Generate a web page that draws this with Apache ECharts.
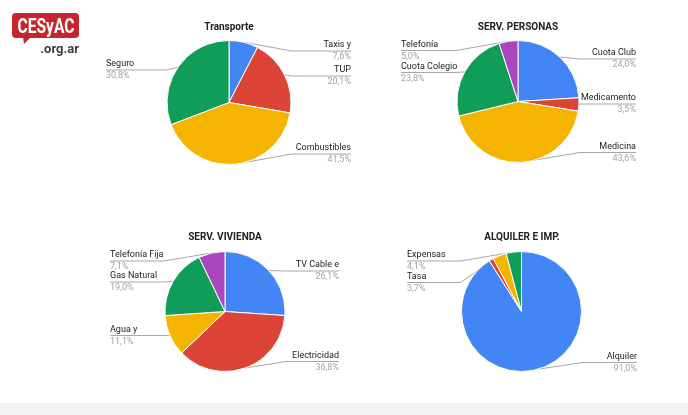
<!DOCTYPE html>
<html>
<head>
<meta charset="utf-8">
<script src="https://cdn.jsdelivr.net/npm/echarts@6/dist/echarts.min.js"></script>
<style>
html, body { margin: 0; padding: 0; background: #fff; }
#chartDiv { width: 688px; height: 415px; }
</style>
</head>
<body>
<div id="chartDiv"></div>
<script>
// values (percent)
var transporteNames = ['Taxis y', 'TUP', 'Combustibles', 'Seguro'];
var transporteValues = [7.6, 20.1, 41.5, 30.8];

var personasNames = ['Cuota Club', 'Medicamento', 'Medicina', 'Cuota Colegio', 'Telefonía'];
var personasValues = [24.0, 3.5, 43.6, 23.8, 5.0];

var viviendaNames = ['TV Cable e', 'Electricidad', 'Agua y', 'Gas Natural', 'Telefonía Fija'];
var viviendaValues = [26.1, 36.8, 11.1, 19.0, 7.1];

// the small red slice has no label in the original
var alquilerNames = ['Alquiler', 'Otros', 'Tasa', 'Expensas'];
var alquilerValues = [91.0, 1.2, 3.7, 4.1];

var colors = ['#4285f4', '#db4437', '#f4b400', '#0f9d58', '#ab47bc'];

var pies = [ {
	title : 'Transporte',
	names : transporteNames,
	values : transporteValues,
	center : [229, 102.5],
	radius : 62,
	titlePos : [229, 22],
	labelY : [51, 76, 154, 70],
	edges : [106, 351]
}, {
	title : 'SERV. PERSONAS',
	names : personasNames,
	values : personasValues,
	center : [518, 101.5],
	radius : 61,
	titlePos : [518, 22],
	labelY : [59, 104, 152.5, 72.5, 50.5],
	edges : [401, 636]
}, {
	title : 'SERV. VIVIENDA',
	names : viviendaNames,
	values : viviendaValues,
	center : [225, 311.5],
	radius : 60,
	titlePos : [225, 232],
	labelY : [271, 361.5, 335.5, 282, 261],
	edges : [110, 339]
}, {
	title : 'ALQUILER E IMP.',
	names : alquilerNames,
	values : alquilerValues,
	center : [521.5, 311.5],
	radius : 60,
	titlePos : [522, 232],
	labelY : [362.5, null, 282.5, 261],
	edges : [407, 637]
} ];

function pct(v) {
	return v.toFixed(1).replace('.', ',') + '%';
}

// google style labels: name above the leader line, percent under it
function makeLabelLayout(pie) {
	return function(params) {
		var y = pie.labelY[params.dataIndex];
		if (y == null) {
			return;
		}
		var p0 = params.labelLinePoints ? params.labelLinePoints[0]
				: [params.rect.x + params.rect.width / 2, params.rect.y];
		var onLeft = p0[0] < pie.center[0];
		var edgeX = onLeft ? pie.edges[0] : pie.edges[1];
		var bendX = onLeft ? pie.center[0] - pie.radius - 1 : pie.center[0] + pie.radius + 1;
		return {
			x : edgeX,
			y : y,
			align : onLeft ? 'left' : 'right',
			verticalAlign : 'middle',
			labelLinePoints : [ p0, [ bendX, y ], [ edgeX, y ] ]
		};
	};
}

var titles = [];
var series = [];
for ( var i in pies) {
	var pie = pies[i];
	titles.push({
		text : pie.title,
		left : pie.titlePos[0],
		top : pie.titlePos[1],
		padding : 0,
		textAlign : 'center',
		textStyle : {
			fontFamily : 'Roboto',
			fontSize : 10,
			fontWeight : 'bold',
			color : '#222'
		}
	});
	var data = [];
	for ( var j = 0; j < pie.values.length; j++) {
		var item = {
			name : pie.names[j],
			value : pie.values[j],
			itemStyle : { color : colors[j] }
		};
		if (pie.labelY[j] == null) {
			item.label = { show : false };
			item.labelLine = { show : false };
		}
		data.push(item);
	}
	series.push({
		type : 'pie',
		center : pie.center,
		radius : pie.radius,
		startAngle : 90,
		avoidLabelOverlap : false,
		emphasis : { disabled : true },
		itemStyle : { borderColor : '#fff', borderWidth : 1 },
		label : {
			show : true,
			position : 'outside',
			formatter : function(p) {
				return '{n|' + p.name + '}\n{p|' + pct(p.value) + '}';
			},
			rich : {
				n : { fontFamily : 'Roboto', fontSize : 9, color : '#222', lineHeight : 12 },
				p : { fontFamily : 'Roboto', fontSize : 9, color : '#a3a3a3', lineHeight : 12 }
			}
		},
		labelLine : {
			show : true,
			length : 5,
			length2 : 5,
			lineStyle : { color : '#a6a6a6', width : 1 }
		},
		labelLayout : makeLabelLayout(pie),
		data : data
	});
}

var chart = echarts.init(document.getElementById('chartDiv'));
chart.setOption({
	backgroundColor : '#fff',
	animation : false,
	title : titles,
	series : series,
	graphic : [ {
		// logo bubble
		type : 'rect',
		shape : { x : 12, y : 13, width : 67, height : 25, r : 4 },
		style : { fill : '#c7252d' }
	}, {
		type : 'polygon',
		shape : { points : [ [ 23, 37 ], [ 31, 37 ], [ 24, 44 ] ] },
		style : { fill : '#c7252d' }
	}, {
		type : 'text',
		x : 46,
		y : 28,
		scaleX : 0.78,
		style : {
			text : 'CESyAC',
			font : 'bold 20px Roboto',
			fill : '#fff',
			align : 'center',
			verticalAlign : 'middle'
		}
	}, {
		type : 'text',
		x : 79,
		y : 50,
		style : {
			text : '.org.ar',
			font : 'bold 13px Roboto',
			fill : '#3d3d3d',
			align : 'right',
			verticalAlign : 'middle'
		}
	}, {
		type : 'rect',
		shape : { x : 0, y : 403, width : 688, height : 12 },
		style : { fill : '#f1f3f4' }
	} ]
});
</script>
</body>
</html>
